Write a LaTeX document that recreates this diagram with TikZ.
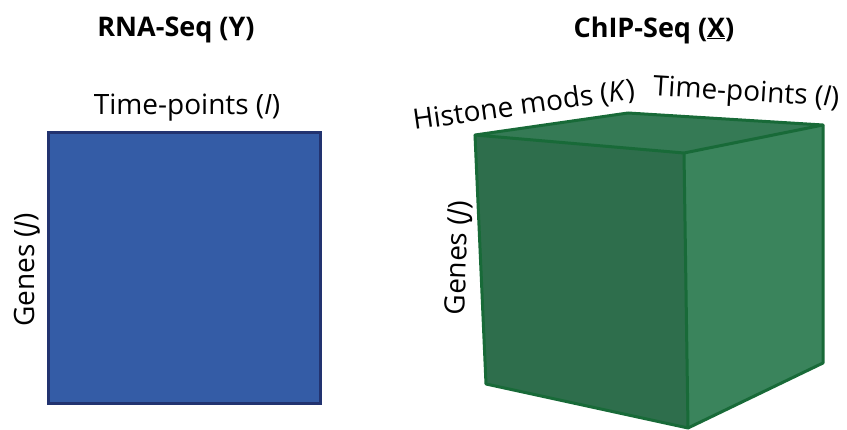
\documentclass[tikz,border=0pt]{standalone}
\usepackage{fontspec}
\setmainfont{Open Sans}
\definecolor{rnafill}{RGB}{52,92,166}
\definecolor{rnaline}{RGB}{34,51,112}
\definecolor{cubefront}{RGB}{46,110,76}
\definecolor{cuberight}{RGB}{58,132,92}
\definecolor{cubetop}{RGB}{53,122,85}
\definecolor{cubeline}{RGB}{24,106,56}
\tikzset{
  label/.style={font=\fontsize{28}{32}\selectfont, inner sep=0pt},
  title/.style={font=\fontsize{27}{32}\selectfont\bfseries, inner sep=0pt},
  edge/.style={draw=cubeline, line width=3pt, line join=round}
}

\begin{document}
\begin{tikzpicture}[x=1pt,y=-1pt]
\useasboundingbox (0,0) rectangle (847,430);
% RNA-Seq matrix
\draw[fill=rnafill,draw=rnaline,line width=3pt]
  (48,133) rectangle (320,404);
\node[title] (rna) at (176,30) {RNA-Seq (Y)};
\node[label] (tp1) at (187,108) {Time-points (\textit{I})};
\node[label,rotate=90] (gen1) at (27,270) {Genes (\textit{J})};
% ChIP-Seq cube corners
\coordinate (ftl) at (475,135);
\coordinate (ftr) at (684,153);
\coordinate (fbr) at (688,428);
\coordinate (fbl) at (486,384);
\coordinate (btl) at (628,113);
\coordinate (btr) at (823,125);
\coordinate (bbr) at (823,363);
\fill[cubefront] (ftl) -- (ftr) -- (fbr) -- (fbl) -- cycle;
\fill[cuberight] (ftr) -- (btr) -- (bbr) -- (fbr) -- cycle;
\fill[cubetop] (ftl) -- (btl) -- (btr) -- (ftr) -- cycle;
\draw[edge] (ftl) -- (btl) -- (btr) -- (ftr) -- cycle;
\draw[edge] (ftl) -- (fbl) -- (fbr) -- (ftr);
\draw[edge] (fbr) -- (bbr) -- (btr);
\node[title] (chip) at (654,30) {ChIP-Seq (\underline{X})};
\node[label,rotate=8] (hist) at (524,106) {Histone mods (\textit{K})};
\node[label,rotate=-3.5] (tp2) at (746,94) {Time-points (\textit{I})};
\node[label,rotate=88] (gen2) at (459,258) {Genes (\textit{J})};
\end{tikzpicture}
\end{document}
